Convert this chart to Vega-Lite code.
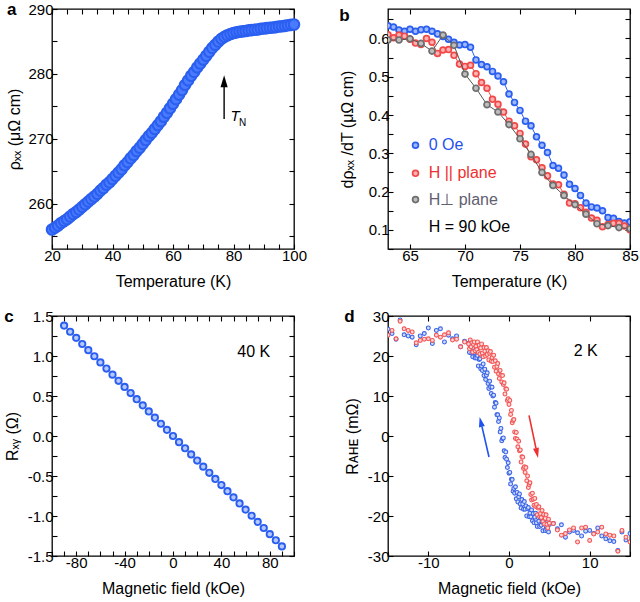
{
"$schema": "https://vega.github.io/schema/vega-lite/v6.json",
"padding": {"left": 3, "top": 0, "right": 0, "bottom": 0},
"background": "white",
"config": {
  "font": "Liberation Sans",
  "view": {"stroke": "black", "strokeWidth": 1.3},
  "axis": {"domain": false, "grid": false, "tickColor": "black", "tickSize": -5, "tickWidth": 1.1, "labelFontSize": 15, "labelColor": "black", "titleFontSize": 16, "titleFontWeight": "normal", "titleColor": "black", "labelPadding": 4, "titlePadding": 6, "labelFlush": false, "labelOverlap": false},
  "axisX": {"titlePadding": 10},
  "title": {"fontSize": 17, "fontWeight": "bold", "anchor": "start", "frame": "bounds", "baseline": "alphabetic", "offset": -17, "color": "black"}
},
"datasets": {
  "a": [
{"T":20,"rho":256.0},{"T":21,"rho":256.3},{"T":22,"rho":256.6},{"T":23,"rho":257.0},{"T":24,"rho":257.3},{"T":25,"rho":257.6},{"T":26,"rho":258.0},{"T":27,"rho":258.4},{"T":28,"rho":258.7},{"T":29,"rho":259.1},{"T":30,"rho":259.5},{"T":31,"rho":259.9},{"T":32,"rho":260.3},{"T":33,"rho":260.7},{"T":34,"rho":261.1},{"T":35,"rho":261.5},{"T":36,"rho":262.0},{"T":37,"rho":262.4},{"T":38,"rho":262.9},{"T":39,"rho":263.3},{"T":40,"rho":263.8},{"T":41,"rho":264.3},{"T":42,"rho":264.8},{"T":43,"rho":265.3},{"T":44,"rho":265.9},{"T":45,"rho":266.4},{"T":46,"rho":267.0},{"T":47,"rho":267.5},{"T":48,"rho":268.1},{"T":49,"rho":268.6},{"T":50,"rho":269.2},{"T":51,"rho":269.8},{"T":52,"rho":270.4},{"T":53,"rho":270.9},{"T":54,"rho":271.5},{"T":55,"rho":272.1},{"T":56,"rho":272.7},{"T":57,"rho":273.4},{"T":58,"rho":274.0},{"T":59,"rho":274.7},{"T":60,"rho":275.4},{"T":61,"rho":276.1},{"T":62,"rho":276.8},{"T":63,"rho":277.5},{"T":64,"rho":278.3},{"T":65,"rho":279.0},{"T":66,"rho":279.7},{"T":67,"rho":280.3},{"T":68,"rho":281.0},{"T":69,"rho":281.6},{"T":70,"rho":282.2},{"T":71,"rho":282.8},{"T":72,"rho":283.4},{"T":73,"rho":284.0},{"T":74,"rho":284.5},{"T":75,"rho":285.0},{"T":76,"rho":285.4},{"T":77,"rho":285.7},{"T":78,"rho":285.95},{"T":79,"rho":286.15},{"T":80,"rho":286.3},{"T":81,"rho":286.4},{"T":82,"rho":286.5},{"T":83,"rho":286.55},{"T":84,"rho":286.6},{"T":85,"rho":286.7},{"T":86,"rho":286.75},{"T":87,"rho":286.8},{"T":88,"rho":286.85},{"T":89,"rho":286.95},{"T":90,"rho":287.0},{"T":91,"rho":287.05},{"T":92,"rho":287.1},{"T":93,"rho":287.15},{"T":94,"rho":287.2},{"T":95,"rho":287.3},{"T":96,"rho":287.35},{"T":97,"rho":287.4},{"T":98,"rho":287.5},{"T":99,"rho":287.55},{"T":100,"rho":287.6}
  ],
  "b0": [
{"T":63.0,"v":0.633},{"T":63.5,"v":0.630},{"T":64.0,"v":0.622},{"T":64.5,"v":0.619},{"T":65.0,"v":0.624},{"T":65.5,"v":0.619},{"T":66.0,"v":0.623},{"T":66.5,"v":0.624},{"T":67.0,"v":0.619},{"T":67.5,"v":0.612},{"T":68.0,"v":0.605},{"T":68.5,"v":0.598},{"T":69.0,"v":0.590},{"T":69.5,"v":0.583},{"T":70.0,"v":0.584},{"T":70.5,"v":0.577},{"T":71.0,"v":0.544},{"T":71.5,"v":0.532},{"T":72.0,"v":0.526},{"T":72.5,"v":0.514},{"T":73.0,"v":0.502},{"T":73.5,"v":0.487},{"T":74.0,"v":0.455},{"T":74.5,"v":0.433},{"T":75.0,"v":0.412},{"T":75.5,"v":0.384},{"T":76.0,"v":0.372},{"T":76.5,"v":0.343},{"T":77.0,"v":0.321},{"T":77.5,"v":0.302},{"T":78.0,"v":0.268},{"T":78.5,"v":0.261},{"T":79.0,"v":0.243},{"T":79.5,"v":0.219},{"T":80.0,"v":0.208},{"T":80.5,"v":0.190},{"T":81.0,"v":0.170},{"T":81.5,"v":0.160},{"T":82.0,"v":0.157},{"T":82.5,"v":0.150},{"T":83.0,"v":0.132},{"T":83.5,"v":0.130},{"T":84.0,"v":0.122},{"T":84.5,"v":0.118},{"T":85.0,"v":0.121}
  ],
  "b1": [
{"T":63.0,"v":0.610},{"T":63.5,"v":0.602},{"T":64.0,"v":0.609},{"T":64.5,"v":0.606},{"T":65.0,"v":0.598},{"T":65.5,"v":0.588},{"T":66.0,"v":0.584},{"T":66.5,"v":0.600},{"T":67.0,"v":0.590},{"T":67.5,"v":0.561},{"T":68.0,"v":0.570},{"T":68.5,"v":0.571},{"T":69.0,"v":0.556},{"T":69.5,"v":0.533},{"T":70.0,"v":0.527},{"T":70.5,"v":0.530},{"T":71.0,"v":0.508},{"T":71.5,"v":0.485},{"T":72.0,"v":0.470},{"T":72.5,"v":0.441},{"T":73.0,"v":0.428},{"T":73.5,"v":0.408},{"T":74.0,"v":0.384},{"T":74.5,"v":0.372},{"T":75.0,"v":0.352},{"T":75.5,"v":0.324},{"T":76.0,"v":0.291},{"T":76.5,"v":0.283},{"T":77.0,"v":0.262},{"T":77.5,"v":0.241},{"T":78.0,"v":0.220},{"T":78.5,"v":0.218},{"T":79.0,"v":0.193},{"T":79.5,"v":0.170},{"T":80.0,"v":0.168},{"T":80.5,"v":0.158},{"T":81.0,"v":0.146},{"T":81.5,"v":0.131},{"T":82.0,"v":0.125},{"T":82.5,"v":0.108},{"T":83.0,"v":0.114},{"T":83.5,"v":0.117},{"T":84.0,"v":0.117},{"T":84.5,"v":0.110},{"T":85.0,"v":0.100}
  ],
  "b2": [
{"T":63,"v":0.596},{"T":64,"v":0.596},{"T":65,"v":0.599},{"T":66,"v":0.587},{"T":67,"v":0.567},{"T":68,"v":0.609},{"T":69,"v":0.582},{"T":70,"v":0.507},{"T":71,"v":0.470},{"T":72,"v":0.427},{"T":73,"v":0.408},{"T":74,"v":0.375},{"T":75,"v":0.338},{"T":76,"v":0.297},{"T":77,"v":0.250},{"T":78,"v":0.216},{"T":79,"v":0.190},{"T":80,"v":0.166},{"T":81,"v":0.141},{"T":82,"v":0.116},{"T":83,"v":0.111},{"T":84,"v":0.106},{"T":85,"v":0.103}
  ],
  "c": [
{"H":-90,"R":1.380},{"H":-85,"R":1.303},{"H":-80,"R":1.227},{"H":-75,"R":1.150},{"H":-70,"R":1.073},{"H":-65,"R":0.997},{"H":-60,"R":0.920},{"H":-55,"R":0.843},{"H":-50,"R":0.767},{"H":-45,"R":0.690},{"H":-40,"R":0.613},{"H":-35,"R":0.537},{"H":-30,"R":0.460},{"H":-25,"R":0.383},{"H":-20,"R":0.307},{"H":-15,"R":0.230},{"H":-10,"R":0.153},{"H":-5,"R":0.077},{"H":0,"R":0.0},{"H":5,"R":-0.077},{"H":10,"R":-0.153},{"H":15,"R":-0.230},{"H":20,"R":-0.307},{"H":25,"R":-0.383},{"H":30,"R":-0.460},{"H":35,"R":-0.537},{"H":40,"R":-0.613},{"H":45,"R":-0.690},{"H":50,"R":-0.767},{"H":55,"R":-0.843},{"H":60,"R":-0.920},{"H":65,"R":-0.997},{"H":70,"R":-1.073},{"H":75,"R":-1.150},{"H":80,"R":-1.227},{"H":85,"R":-1.303},{"H":90,"R":-1.380}
  ],
  "dB": [
{"H":-15.0,"R":26.7},{"H":-14.5,"R":25.6},{"H":-14.0,"R":24.2},{"H":-13.5,"R":29.0},{"H":-13.0,"R":25.3},{"H":-12.5,"R":25.0},{"H":-12.0,"R":24.7},{"H":-11.5,"R":22.8},{"H":-11.0,"R":25.0},{"H":-10.5,"R":25.6},{"H":-10.0,"R":27.0},{"H":-9.5,"R":23.1},{"H":-9.0,"R":26.4},{"H":-8.5,"R":26.8},{"H":-8.0,"R":23.5},{"H":-7.5,"R":25.2},{"H":-7.0,"R":24.3},{"H":-6.5,"R":25.0},{"H":-6.0,"R":22.3},{"H":-5.5,"R":23.7},
{"H":-5.0,"R":23.2},{"H":-4.9,"R":20.9},{"H":-4.8,"R":22.3},{"H":-4.7,"R":23.1},{"H":-4.6,"R":20.7},{"H":-4.5,"R":19.8},{"H":-4.4,"R":21.9},{"H":-4.3,"R":20.8},{"H":-4.2,"R":19.5},{"H":-4.1,"R":21.4},{"H":-4.0,"R":19.5},{"H":-3.9,"R":20.1},{"H":-3.8,"R":17.5},{"H":-3.7,"R":19.1},{"H":-3.6,"R":19.3},{"H":-3.5,"R":16.8},{"H":-3.4,"R":17.5},{"H":-3.3,"R":16.4},{"H":-3.2,"R":18.0},{"H":-3.1,"R":15.1},{"H":-3.0,"R":16.7},{"H":-2.9,"R":14.1},{"H":-2.8,"R":15.2},{"H":-2.7,"R":15.8},{"H":-2.6,"R":13.1},{"H":-2.5,"R":11.9},{"H":-2.4,"R":13.7},{"H":-2.3,"R":12.3},{"H":-2.2,"R":10.6},{"H":-2.1,"R":12.2},{"H":-2.0,"R":10.0},{"H":-1.9,"R":10.2},{"H":-1.8,"R":7.2},{"H":-1.7,"R":8.4},{"H":-1.6,"R":8.2},{"H":-1.5,"R":5.3},{"H":-1.4,"R":5.3},{"H":-1.3,"R":3.6},{"H":-1.2,"R":4.5},{"H":-1.1,"R":1.0},{"H":-1.0,"R":1.9},{"H":-0.9,"R":-1.2},{"H":-0.8,"R":-0.6},{"H":-0.7,"R":-0.5},{"H":-0.6,"R":-3.7},{"H":-0.5,"R":-5.4},{"H":-0.4,"R":-4.0},{"H":-0.3,"R":-5.8},{"H":-0.2,"R":-7.9},{"H":-0.1,"R":-6.7},{"H":0.0,"R":-9.3},{"H":0.1,"R":-9.1},{"H":0.2,"R":-12.0},{"H":0.3,"R":-10.8},{"H":0.4,"R":-10.9},{"H":0.5,"R":-13.8},{"H":0.6,"R":-13.1},{"H":0.7,"R":-14.3},{"H":0.8,"R":-12.7},{"H":0.9,"R":-15.7},{"H":1.0,"R":-14.1},{"H":1.1,"R":-16.5},{"H":1.2,"R":-15.2},{"H":1.3,"R":-14.5},{"H":1.4,"R":-17.0},{"H":1.5,"R":-18.0},{"H":1.6,"R":-15.9},{"H":1.7,"R":-17.0},{"H":1.8,"R":-18.3},{"H":1.9,"R":-16.4},{"H":2.0,"R":-18.3},{"H":2.1,"R":-17.5},{"H":2.2,"R":-20.0},{"H":2.3,"R":-18.2},{"H":2.4,"R":-17.9},{"H":2.5,"R":-20.2},{"H":2.6,"R":-19.3},{"H":2.7,"R":-20.2},{"H":2.8,"R":-18.5},{"H":2.9,"R":-21.2},{"H":3.0,"R":-19.4},{"H":3.1,"R":-21.7},{"H":3.2,"R":-20.3},{"H":3.3,"R":-19.3},{"H":3.4,"R":-21.7},{"H":3.5,"R":-22.6},{"H":3.6,"R":-20.4},{"H":3.7,"R":-21.3},{"H":3.8,"R":-22.6},{"H":3.9,"R":-20.5},{"H":4.0,"R":-22.3},{"H":4.1,"R":-21.4},{"H":4.2,"R":-23.7},{"H":4.3,"R":-21.9},{"H":4.4,"R":-21.4},{"H":4.5,"R":-23.6},{"H":4.6,"R":-22.6},{"H":4.7,"R":-23.4},{"H":4.8,"R":-21.4},{"H":4.9,"R":-24.0},{"H":5.0,"R":-22.1},
{"H":5.5,"R":-21.9},{"H":6.0,"R":-23.2},{"H":6.5,"R":-22.2},{"H":7.0,"R":-25.3},{"H":7.5,"R":-24.0},{"H":8.0,"R":-23.6},{"H":8.5,"R":-24.2},{"H":9.0,"R":-25.0},{"H":9.5,"R":-23.8},{"H":10.0,"R":-23.6},{"H":10.5,"R":-24.4},{"H":11.0,"R":-23.0},{"H":11.5,"R":-25.0},{"H":12.0,"R":-25.7},{"H":12.5,"R":-26.2},{"H":13.0,"R":-26.4},{"H":13.5,"R":-28.6},{"H":14.0,"R":-24.0},{"H":14.5,"R":-26.0},{"H":15.0,"R":-24.4}
  ],
  "dR": [
{"H":-15.0,"R":25.2},{"H":-14.5,"R":26.4},{"H":-14.0,"R":24.3},{"H":-13.5,"R":28.7},{"H":-13.0,"R":26.8},{"H":-12.5,"R":26.4},{"H":-12.0,"R":26.0},{"H":-11.5,"R":23.3},{"H":-11.0,"R":23.9},{"H":-10.5,"R":24.2},{"H":-10.0,"R":24.3},{"H":-9.5,"R":23.9},{"H":-9.0,"R":25.2},{"H":-8.5,"R":24.7},{"H":-8.0,"R":25.3},{"H":-7.5,"R":25.8},{"H":-7.0,"R":24.0},{"H":-6.5,"R":24.2},{"H":-6.0,"R":22.3},{"H":-5.5,"R":23.5},
{"H":-5.0,"R":23.0},{"H":-4.9,"R":21.8},{"H":-4.8,"R":24.0},{"H":-4.7,"R":22.3},{"H":-4.6,"R":23.3},{"H":-4.5,"R":21.0},{"H":-4.4,"R":22.9},{"H":-4.3,"R":23.5},{"H":-4.2,"R":21.3},{"H":-4.1,"R":22.4},{"H":-4.0,"R":21.6},{"H":-3.9,"R":23.5},{"H":-3.8,"R":20.9},{"H":-3.7,"R":22.7},{"H":-3.6,"R":20.5},{"H":-3.5,"R":22.0},{"H":-3.4,"R":23.0},{"H":-3.3,"R":20.7},{"H":-3.2,"R":19.8},{"H":-3.1,"R":22.1},{"H":-3.0,"R":21.2},{"H":-2.9,"R":20.0},{"H":-2.8,"R":22.1},{"H":-2.7,"R":20.4},{"H":-2.6,"R":21.3},{"H":-2.5,"R":19.0},{"H":-2.4,"R":20.7},{"H":-2.3,"R":21.1},{"H":-2.2,"R":18.7},{"H":-2.1,"R":19.6},{"H":-2.0,"R":18.6},{"H":-1.9,"R":20.2},{"H":-1.8,"R":17.2},{"H":-1.7,"R":18.8},{"H":-1.6,"R":16.2},{"H":-1.5,"R":17.4},{"H":-1.4,"R":18.1},{"H":-1.3,"R":15.5},{"H":-1.2,"R":14.4},{"H":-1.1,"R":16.4},{"H":-1.0,"R":15.2},{"H":-0.9,"R":13.5},{"H":-0.8,"R":15.1},{"H":-0.7,"R":12.9},{"H":-0.6,"R":13.3},{"H":-0.5,"R":10.5},{"H":-0.4,"R":11.8},{"H":-0.3,"R":11.7},{"H":-0.2,"R":8.9},{"H":-0.1,"R":9.3},{"H":0.0,"R":7.9},{"H":0.1,"R":8.9},{"H":0.2,"R":5.4},{"H":0.3,"R":6.4},{"H":0.4,"R":3.3},{"H":0.5,"R":3.9},{"H":0.6,"R":4.1},{"H":0.7,"R":1.0},{"H":0.8,"R":-0.6},{"H":0.9,"R":0.9},{"H":1.0,"R":-0.8},{"H":1.1,"R":-2.7},{"H":1.2,"R":-1.3},{"H":1.3,"R":-3.7},{"H":1.4,"R":-3.5},{"H":1.5,"R":-6.5},{"H":1.6,"R":-5.2},{"H":1.7,"R":-5.3},{"H":1.8,"R":-8.1},{"H":1.9,"R":-7.7},{"H":2.0,"R":-9.1},{"H":2.1,"R":-7.9},{"H":2.2,"R":-11.2},{"H":2.3,"R":-10.0},{"H":2.4,"R":-12.9},{"H":2.5,"R":-12.1},{"H":2.6,"R":-11.7},{"H":2.7,"R":-14.6},{"H":2.8,"R":-16.0},{"H":2.9,"R":-14.3},{"H":3.0,"R":-15.8},{"H":3.1,"R":-17.3},{"H":3.2,"R":-15.6},{"H":3.3,"R":-17.6},{"H":3.4,"R":-17.1},{"H":3.5,"R":-19.7},{"H":3.6,"R":-18.0},{"H":3.7,"R":-17.7},{"H":3.8,"R":-20.2},{"H":3.9,"R":-19.4},{"H":4.0,"R":-20.4},{"H":4.1,"R":-18.6},{"H":4.2,"R":-21.4},{"H":4.3,"R":-19.6},{"H":4.4,"R":-22.0},{"H":4.5,"R":-20.6},{"H":4.6,"R":-19.7},{"H":4.7,"R":-22.1},{"H":4.8,"R":-23.0},{"H":4.9,"R":-20.8},{"H":5.0,"R":-21.8},
{"H":5.5,"R":-21.9},{"H":6.0,"R":-23.5},{"H":6.5,"R":-24.8},{"H":7.0,"R":-24.4},{"H":7.5,"R":-23.5},{"H":8.0,"R":-23.0},{"H":8.5,"R":-26.5},{"H":9.0,"R":-23.0},{"H":9.5,"R":-22.8},{"H":10.0,"R":-26.1},{"H":10.5,"R":-24.5},{"H":11.0,"R":-24.0},{"H":11.5,"R":-22.8},{"H":12.0,"R":-24.5},{"H":12.5,"R":-24.8},{"H":13.0,"R":-25.0},{"H":13.5,"R":-28.8},{"H":14.0,"R":-23.6},{"H":14.5,"R":-25.3},{"H":15.0,"R":-26.5}
  ]
},
"columns": 2,
"bounds": "flush",
"spacing": {"row": 67, "column": 94},
"concat": [
 {
  "width": 242, "height": 240,
  "title": {"text": "a"},
  "resolve": {"axis": {"x": "independent", "y": "independent"}},
  "layer": [
   {"data": {"name": "a"},
    "mark": {"type": "point", "shape": "circle", "size": 110, "stroke": "#2a5ff0", "strokeWidth": 2.1, "fill": "#4a7bff", "fillOpacity": 1, "opacity": 1},
    "encoding": {
     "x": {"field": "T", "type": "quantitative", "scale": {"domain": [20, 100], "nice": false, "zero": false},
           "axis": {"values": [20,25,30,35,40,45,50,55,60,65,70,75,80,85,90,95,100], "labelExpr": "datum.value % 20 === 0 ? datum.label : ''", "title": "Temperature (K)"}},
     "y": {"field": "rho", "type": "quantitative", "scale": {"domain": [253, 290], "nice": false, "zero": false},
           "axis": {"values": [255,260,265,270,275,280,285,290], "labelExpr": "datum.value % 10 === 0 ? datum.label : ''", "title": "ρₓₓ  (μΩ cm)", "titlePadding": 5}}
    }},
   {"data": {"name": "a"},
    "mark": {"type": "point", "opacity": 0},
    "encoding": {
     "x": {"field": "T", "type": "quantitative", "scale": {"domain": [20, 100], "nice": false, "zero": false},
           "axis": {"orient": "top", "values": [20,25,30,35,40,45,50,55,60,65,70,75,80,85,90,95,100], "labels": false, "title": null}},
     "y": {"field": "rho", "type": "quantitative", "scale": {"domain": [253, 290], "nice": false, "zero": false},
           "axis": {"orient": "right", "values": [255,260,265,270,275,280,285,290], "labels": false, "title": null}}
    }},
   {"data": {"values": [{"T": 76.9, "y1": 273.05, "y2": 278.2}]},
    "mark": {"type": "rule", "color": "black", "strokeWidth": 1.4},
    "encoding": {
     "x": {"field": "T", "type": "quantitative", "scale": {"domain": [20, 100], "nice": false, "zero": false}, "axis": null},
     "y": {"field": "y1", "type": "quantitative", "scale": {"domain": [253, 290], "nice": false, "zero": false}, "axis": null},
     "y2": {"field": "y2"}
    }},
   {"data": {"values": [{"T": 76.9, "y": 278.87}]},
    "mark": {"type": "point", "shape": "M0,-1L0.6,1L-0.6,1Z", "size": 144, "filled": true, "color": "black", "opacity": 1},
    "encoding": {
     "x": {"field": "T", "type": "quantitative", "scale": {"domain": [20, 100], "nice": false, "zero": false}, "axis": null},
     "y": {"field": "y", "type": "quantitative", "scale": {"domain": [253, 290], "nice": false, "zero": false}, "axis": null}
    }},
   {"data": {"values": [{"T": 79.0, "y": 272.7, "t": "T"}]},
    "mark": {"type": "text", "align": "left", "baseline": "alphabetic", "fontSize": 15, "fontStyle": "italic", "color": "black"},
    "encoding": {
     "x": {"field": "T", "type": "quantitative", "scale": {"domain": [20, 100], "nice": false, "zero": false}, "axis": null},
     "y": {"field": "y", "type": "quantitative", "scale": {"domain": [253, 290], "nice": false, "zero": false}, "axis": null},
     "text": {"field": "t"}
    }},
   {"data": {"values": [{"T": 81.8, "y": 272.0, "t": "N"}]},
    "mark": {"type": "text", "align": "left", "baseline": "alphabetic", "fontSize": 10, "color": "black"},
    "encoding": {
     "x": {"field": "T", "type": "quantitative", "scale": {"domain": [20, 100], "nice": false, "zero": false}, "axis": null},
     "y": {"field": "y", "type": "quantitative", "scale": {"domain": [253, 290], "nice": false, "zero": false}, "axis": null},
     "text": {"field": "t"}
    }}
  ]
 },
 {
  "width": 242, "height": 240,
  "title": {"text": "b"},
  "resolve": {"axis": {"x": "independent", "y": "independent"}},
  "layer": [
   {"data": {"name": "b0"},
    "mark": {"type": "line", "color": "#2a5ef0", "strokeWidth": 1, "clip": true},
    "encoding": {
     "x": {"field": "T", "type": "quantitative", "scale": {"domain": [63, 85], "nice": false, "zero": false},
           "axis": {"values": [65,70,75,80,85], "title": "Temperature (K)"}},
     "y": {"field": "v", "type": "quantitative", "scale": {"domain": [0.05, 0.677], "nice": false, "zero": false},
           "axis": {"values": [0.05,0.1,0.15,0.2,0.25,0.3,0.35,0.4,0.45,0.5,0.55,0.6,0.65], "labelExpr": "round(datum.value*100) % 10 === 0 ? format(datum.value, '.1f') : ''", "title": "dρₓₓ /dT  (μΩ cm)", "titlePadding": 13}}
    }},
   {"data": {"name": "b0"},
    "mark": {"type": "point", "shape": "circle", "size": 34, "stroke": "#2a5ef0", "strokeWidth": 1.7, "fill": "#9db8ff", "fillOpacity": 1, "opacity": 1, "clip": true},
    "encoding": {
     "x": {"field": "T", "type": "quantitative", "scale": {"domain": [63, 85], "nice": false, "zero": false}, "axis": {"orient": "top", "values": [65,70,75,80,85], "labels": false, "title": null}},
     "y": {"field": "v", "type": "quantitative", "scale": {"domain": [0.05, 0.677], "nice": false, "zero": false}, "axis": {"orient": "right", "values": [0.05,0.1,0.15,0.2,0.25,0.3,0.35,0.4,0.45,0.5,0.55,0.6,0.65], "labels": false, "title": null}}
    }},
   {"data": {"name": "b1"},
    "mark": {"type": "line", "color": "#f04848", "strokeWidth": 1, "clip": true},
    "encoding": {
     "x": {"field": "T", "type": "quantitative", "scale": {"domain": [63, 85], "nice": false, "zero": false}, "axis": null},
     "y": {"field": "v", "type": "quantitative", "scale": {"domain": [0.05, 0.677], "nice": false, "zero": false}, "axis": null}
    }},
   {"data": {"name": "b1"},
    "mark": {"type": "point", "shape": "circle", "size": 34, "stroke": "#f04848", "strokeWidth": 1.7, "fill": "#ffb0b0", "fillOpacity": 1, "opacity": 1, "clip": true},
    "encoding": {
     "x": {"field": "T", "type": "quantitative", "scale": {"domain": [63, 85], "nice": false, "zero": false}, "axis": null},
     "y": {"field": "v", "type": "quantitative", "scale": {"domain": [0.05, 0.677], "nice": false, "zero": false}, "axis": null}
    }},
   {"data": {"name": "b2"},
    "mark": {"type": "line", "color": "#555555", "strokeWidth": 1, "clip": true},
    "encoding": {
     "x": {"field": "T", "type": "quantitative", "scale": {"domain": [63, 85], "nice": false, "zero": false}, "axis": null},
     "y": {"field": "v", "type": "quantitative", "scale": {"domain": [0.05, 0.677], "nice": false, "zero": false}, "axis": null}
    }},
   {"data": {"name": "b2"},
    "mark": {"type": "point", "shape": "circle", "size": 36, "stroke": "#6e6e6e", "strokeWidth": 1.7, "fill": "#bdbdbd", "fillOpacity": 1, "opacity": 1, "clip": true},
    "encoding": {
     "x": {"field": "T", "type": "quantitative", "scale": {"domain": [63, 85], "nice": false, "zero": false}, "axis": null},
     "y": {"field": "v", "type": "quantitative", "scale": {"domain": [0.05, 0.677], "nice": false, "zero": false}, "axis": null}
    }},
   {"data": {"values": [{"T": 65.5, "v": 0.321, "s": "0 Oe"}, {"T": 65.5, "v": 0.2477, "s": "H || plane"}, {"T": 65.5, "v": 0.179, "s": "H⊥ plane"}]},
    "mark": {"type": "point", "shape": "circle", "size": 34, "strokeWidth": 1.7, "fillOpacity": 1, "opacity": 1},
    "encoding": {
     "x": {"field": "T", "type": "quantitative", "scale": {"domain": [63, 85], "nice": false, "zero": false}, "axis": null},
     "y": {"field": "v", "type": "quantitative", "scale": {"domain": [0.05, 0.677], "nice": false, "zero": false}, "axis": null},
     "stroke": {"field": "s", "type": "nominal", "scale": {"domain": ["0 Oe", "H || plane", "H⊥ plane"], "range": ["#2a5ef0", "#f04848", "#6e6e6e"]}, "legend": null},
     "fill": {"field": "s", "type": "nominal", "scale": {"domain": ["0 Oe", "H || plane", "H⊥ plane"], "range": ["#9db8ff", "#ffb0b0", "#bdbdbd"]}, "legend": null}
    }},
   {"data": {"values": [{"T": 66.7, "v": 0.321, "s": "0 Oe"}, {"T": 66.7, "v": 0.2477, "s": "H || plane"}, {"T": 66.7, "v": 0.179, "s": "H⊥ plane"}, {"T": 66.7, "v": 0.108, "s": "H = 90 kOe"}]},
    "mark": {"type": "text", "align": "left", "baseline": "middle", "fontSize": 16},
    "encoding": {
     "x": {"field": "T", "type": "quantitative", "scale": {"domain": [63, 85], "nice": false, "zero": false}, "axis": null},
     "y": {"field": "v", "type": "quantitative", "scale": {"domain": [0.05, 0.677], "nice": false, "zero": false}, "axis": null},
     "text": {"field": "s"},
     "color": {"field": "s", "type": "nominal", "scale": {"domain": ["0 Oe", "H || plane", "H⊥ plane", "H = 90 kOe"], "range": ["#1f52ee", "#ee3030", "#5f6070", "#000000"]}, "legend": null}
    }}
  ]
 },
 {
  "width": 242, "height": 240,
  "title": {"text": "c"},
  "resolve": {"axis": {"x": "independent", "y": "independent"}},
  "layer": [
   {"data": {"name": "c"},
    "mark": {"type": "point", "opacity": 0},
    "encoding": {
     "x": {"field": "H", "type": "quantitative", "scale": {"domain": [-100, 100], "nice": false, "zero": false},
           "axis": {"values": [-100,-90,-80,-70,-60,-50,-40,-30,-20,-10,0,10,20,30,40,50,60,70,80,90,100], "labelExpr": "datum.value % 40 === 0 ? replace(format(datum.value, 'd'), '−', '-') : ''", "title": "Magnetic field (kOe)"}},
     "y": {"field": "R", "type": "quantitative", "scale": {"domain": [-1.5, 1.5], "nice": false, "zero": false},
           "axis": {"values": [-1.5,-1.25,-1,-0.75,-0.5,-0.25,0,0.25,0.5,0.75,1,1.25,1.5], "labelExpr": "abs(datum.value*2 - round(datum.value*2)) < 0.001 ? replace(format(datum.value, '.1f'), '−', '-') : ''", "title": "Rₓᵧ  (Ω)", "titlePadding": 7}}
    }},
   {"data": {"name": "c"},
    "mark": {"type": "point", "opacity": 0},
    "encoding": {
     "x": {"field": "H", "type": "quantitative", "scale": {"domain": [-100, 100], "nice": false, "zero": false},
           "axis": {"orient": "top", "values": [-100,-90,-80,-70,-60,-50,-40,-30,-20,-10,0,10,20,30,40,50,60,70,80,90,100], "labels": false, "title": null}},
     "y": {"field": "R", "type": "quantitative", "scale": {"domain": [-1.5, 1.5], "nice": false, "zero": false},
           "axis": {"orient": "right", "values": [-1.5,-1.25,-1,-0.75,-0.5,-0.25,0,0.25,0.5,0.75,1,1.25,1.5], "labels": false, "title": null}}
    }},
   {"mark": {"type": "rule", "color": "#555555", "strokeWidth": 1},
    "encoding": {"x": {"datum": 0, "type": "quantitative", "scale": {"domain": [-100, 100], "nice": false, "zero": false}, "axis": null}}},
   {"mark": {"type": "rule", "color": "#555555", "strokeWidth": 1},
    "encoding": {"y": {"datum": 0, "type": "quantitative", "scale": {"domain": [-1.5, 1.5], "nice": false, "zero": false}, "axis": null}}},
   {"data": {"name": "c"},
    "mark": {"type": "point", "shape": "circle", "size": 40, "stroke": "#2a5ef0", "strokeWidth": 1.9, "fill": "#b4c8ff", "fillOpacity": 1, "opacity": 1},
    "encoding": {
     "x": {"field": "H", "type": "quantitative", "scale": {"domain": [-100, 100], "nice": false, "zero": false}, "axis": null},
     "y": {"field": "R", "type": "quantitative", "scale": {"domain": [-1.5, 1.5], "nice": false, "zero": false}, "axis": null}
    }},
   {"data": {"values": [{"H": 66.7, "R": 1.056, "t": "40 K"}]},
    "mark": {"type": "text", "align": "center", "baseline": "middle", "fontSize": 16, "color": "black"},
    "encoding": {
     "x": {"field": "H", "type": "quantitative", "scale": {"domain": [-100, 100], "nice": false, "zero": false}, "axis": null},
     "y": {"field": "R", "type": "quantitative", "scale": {"domain": [-1.5, 1.5], "nice": false, "zero": false}, "axis": null},
     "text": {"field": "t"}
    }}
  ]
 },
 {
  "width": 242, "height": 240,
  "title": {"text": "d"},
  "resolve": {"axis": {"x": "independent", "y": "independent"}},
  "layer": [
   {"data": {"name": "dB"},
    "mark": {"type": "point", "opacity": 0},
    "encoding": {
     "x": {"field": "H", "type": "quantitative", "scale": {"domain": [-15, 15], "nice": false, "zero": false},
           "axis": {"values": [-15,-10,-5,0,5,10,15], "labelExpr": "datum.value % 10 === 0 ? replace(format(datum.value, 'd'), '−', '-') : ''", "title": "Magnetic field (kOe)"}},
     "y": {"field": "R", "type": "quantitative", "scale": {"domain": [-30, 30], "nice": false, "zero": false},
           "axis": {"values": [-30,-20,-10,0,10,20,30], "labelExpr": "replace(format(datum.value, 'd'), '−', '-')", "title": "Rᴀʜᴇ  (mΩ)", "titlePadding": 7}}
    }},
   {"data": {"name": "dB"},
    "mark": {"type": "point", "opacity": 0},
    "encoding": {
     "x": {"field": "H", "type": "quantitative", "scale": {"domain": [-15, 15], "nice": false, "zero": false},
           "axis": {"orient": "top", "values": [-15,-10,-5,0,5,10,15], "labels": false, "title": null}},
     "y": {"field": "R", "type": "quantitative", "scale": {"domain": [-30, 30], "nice": false, "zero": false},
           "axis": {"orient": "right", "values": [-30,-20,-10,0,10,20,30], "labels": false, "title": null}}
    }},
   {"mark": {"type": "rule", "color": "#777777", "strokeWidth": 1.5},
    "encoding": {"x": {"datum": 0, "type": "quantitative", "scale": {"domain": [-15, 15], "nice": false, "zero": false}, "axis": null}}},
   {"mark": {"type": "rule", "color": "#777777", "strokeWidth": 1.5},
    "encoding": {"y": {"datum": 0, "type": "quantitative", "scale": {"domain": [-30, 30], "nice": false, "zero": false}, "axis": null}}},
   {"data": {"name": "dB"},
    "mark": {"type": "point", "shape": "circle", "size": 15, "stroke": "#3a63e6", "strokeWidth": 1.1, "fill": "#d2defc", "fillOpacity": 1, "opacity": 1, "clip": true},
    "encoding": {
     "x": {"field": "H", "type": "quantitative", "scale": {"domain": [-15, 15], "nice": false, "zero": false}, "axis": null},
     "y": {"field": "R", "type": "quantitative", "scale": {"domain": [-30, 30], "nice": false, "zero": false}, "axis": null}
    }},
   {"data": {"name": "dR"},
    "mark": {"type": "point", "shape": "circle", "size": 15, "stroke": "#f25555", "strokeWidth": 1.1, "fill": "#ffd8d8", "fillOpacity": 1, "opacity": 1, "clip": true},
    "encoding": {
     "x": {"field": "H", "type": "quantitative", "scale": {"domain": [-15, 15], "nice": false, "zero": false}, "axis": null},
     "y": {"field": "R", "type": "quantitative", "scale": {"domain": [-30, 30], "nice": false, "zero": false}, "axis": null}
    }},
   {"data": {"values": [{"x1": -2.48, "y1": -5.25, "x2": -3.35, "y2": 2.33, "c": "up"}, {"x1": 2.48, "y1": 5.15, "x2": 3.34, "y2": -3.05, "c": "down"}]},
    "mark": {"type": "rule", "strokeWidth": 1.6},
    "encoding": {
     "x": {"field": "x1", "type": "quantitative", "scale": {"domain": [-15, 15], "nice": false, "zero": false}, "axis": null},
     "y": {"field": "y1", "type": "quantitative", "scale": {"domain": [-30, 30], "nice": false, "zero": false}, "axis": null},
     "x2": {"field": "x2"},
     "y2": {"field": "y2"},
     "color": {"field": "c", "type": "nominal", "scale": {"domain": ["up", "down"], "range": ["#1f4fe8", "#ee2e2e"]}, "legend": null}
    }},
   {"data": {"values": [{"x": -3.5, "y": 3.53, "a": 347, "c": "up"}, {"x": 3.47, "y": -4.28, "a": 168, "c": "down"}]},
    "mark": {"type": "point", "shape": "M0,-1L0.6,1L-0.6,1Z", "size": 100, "filled": true, "opacity": 1},
    "encoding": {
     "x": {"field": "x", "type": "quantitative", "scale": {"domain": [-15, 15], "nice": false, "zero": false}, "axis": null},
     "y": {"field": "y", "type": "quantitative", "scale": {"domain": [-30, 30], "nice": false, "zero": false}, "axis": null},
     "angle": {"field": "a", "type": "quantitative", "scale": null},
     "color": {"field": "c", "type": "nominal", "scale": {"domain": ["up", "down"], "range": ["#1f4fe8", "#ee2e2e"]}, "legend": null}
    }},
   {"data": {"values": [{"H": 9.5, "R": 21.3, "t": "2 K"}]},
    "mark": {"type": "text", "align": "center", "baseline": "middle", "fontSize": 16, "color": "black"},
    "encoding": {
     "x": {"field": "H", "type": "quantitative", "scale": {"domain": [-15, 15], "nice": false, "zero": false}, "axis": null},
     "y": {"field": "R", "type": "quantitative", "scale": {"domain": [-30, 30], "nice": false, "zero": false}, "axis": null},
     "text": {"field": "t"}
    }}
  ]
 }
]
}
